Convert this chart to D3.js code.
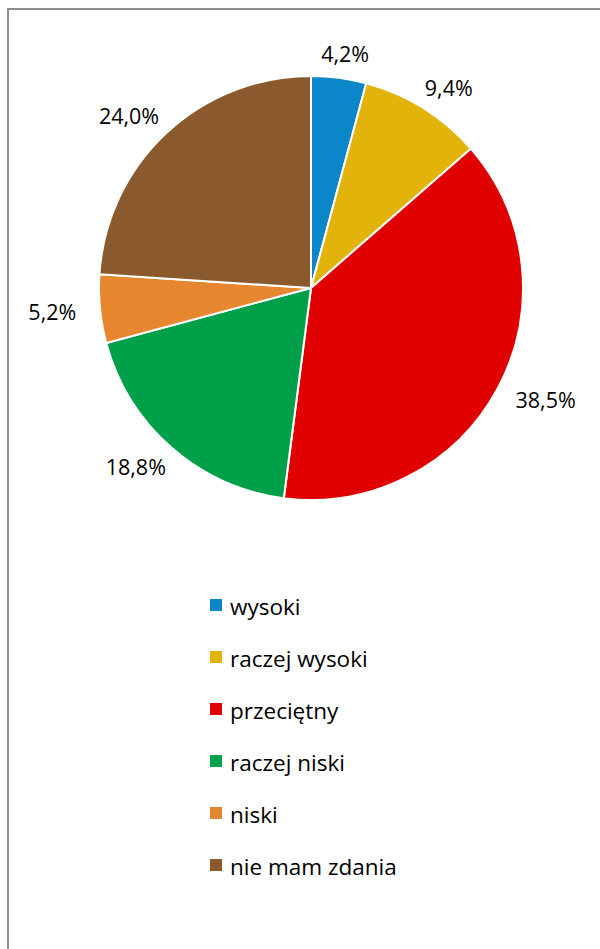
<!DOCTYPE html>
<html><head><meta charset="utf-8">
<script src="https://cdn.jsdelivr.net/npm/d3@7"></script>
<style>body{margin:0;background:#fff}svg{display:block}</style>
</head><body>
<svg id="c" width="600" height="949"></svg>
<script>
const categories = ["wysoki","raczej wysoki","przeciętny","raczej niski","niski","nie mam zdania"];
const values = [4.2, 9.4, 38.5, 18.8, 5.2, 24.0];
const labels = ["4,2%","9,4%","38,5%","18,8%","5,2%","24,0%"];
const colors = ["#0b87c9","#e2b40b","#e10000","#00a04b","#e6872f","#8a5a2e"];

const svg = d3.select("#c");
const font = "'Open Sans', 'Noto Sans', sans-serif";
svg.append("rect").attr("x",8).attr("y",9).attr("width",700).attr("height",1000)
  .attr("fill","#fff").attr("stroke","#8c8c8c").attr("stroke-width",2);

const cx = 311, cy = 288, r = 212;
const pie = d3.pie().sort(null).value(d=>d)(values);
const arc = d3.arc().innerRadius(0).outerRadius(r);
const g = svg.append("g").attr("transform",`translate(${cx},${cy})`);
g.selectAll("path").data(pie).join("path")
  .attr("d",arc).attr("fill",(d,i)=>colors[i])
  .attr("stroke","#fff").attr("stroke-width",2).attr("stroke-linejoin","round");

const fs = 21.5;
pie.forEach((d,i)=>{
  const a = (d.startAngle+d.endAngle)/2;
  const t = g.append("text").text(labels[i]).attr("font-family",font).attr("font-size",fs)
    .attr("fill","#000").attr("text-anchor","middle").attr("dominant-baseline","central");
  const w = t.node().getComputedTextLength(), h = fs;
  const rr = r+14;
  const x = Math.sin(a)*rr + Math.sin(a)*w/2 + Math.sin(a)*10;
  const y = -Math.cos(a)*rr - Math.cos(a)*h/2;
  t.attr("x",x).attr("y",y);
});

const ly = d3.scalePoint().domain(categories).range([605,865]);
const lg = svg.append("g");
categories.forEach((c,i)=>{
  const y = ly(c);
  lg.append("rect").attr("x",210).attr("y",y-6).attr("width",12).attr("height",12).attr("fill",colors[i]);
  lg.append("text").attr("x",230).attr("y",y+1).attr("dominant-baseline","central")
    .attr("font-family",font).attr("font-size",22.5).attr("fill","#000").text(c);
});
</script>
</body></html>
